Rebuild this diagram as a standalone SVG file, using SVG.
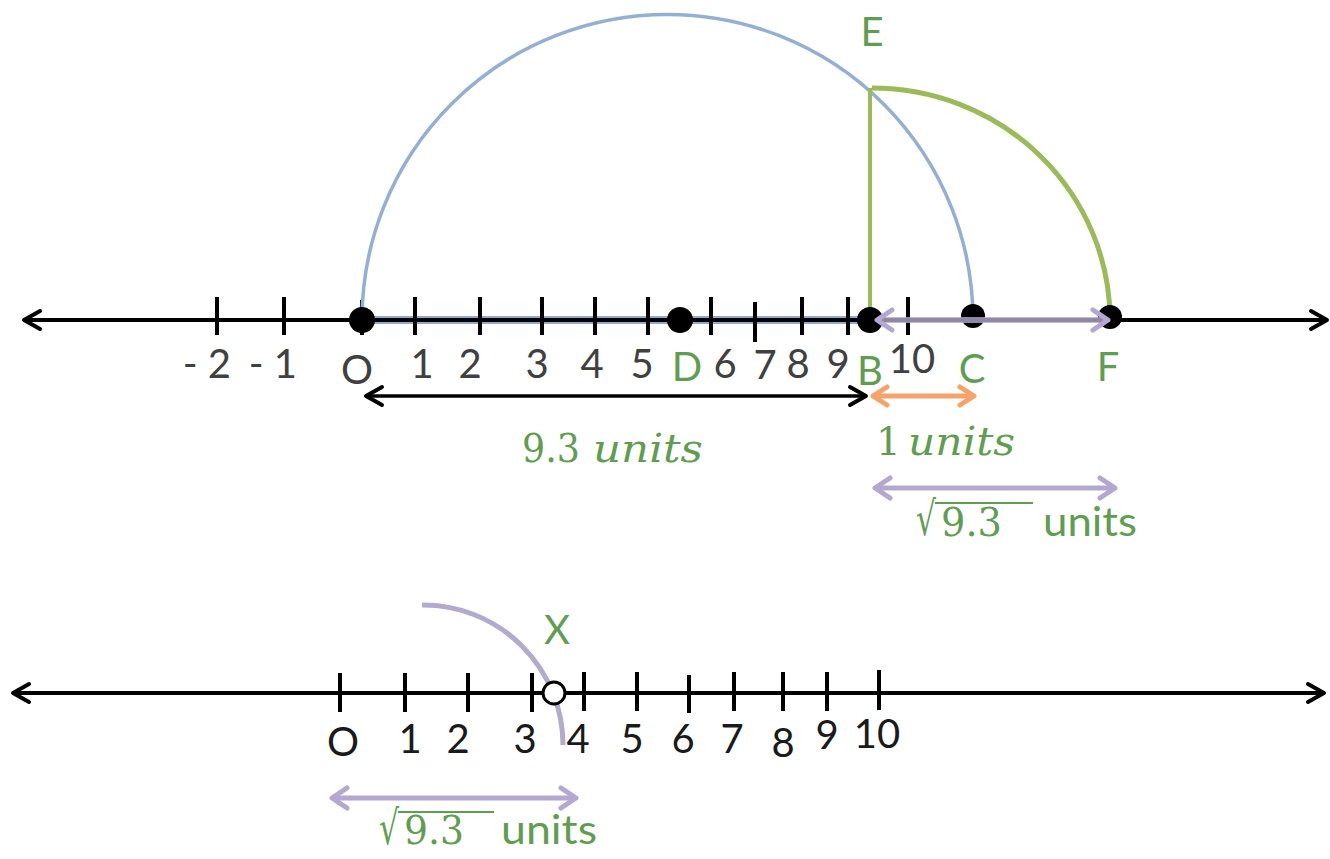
<svg xmlns="http://www.w3.org/2000/svg" width="1330" height="859" viewBox="0 0 1330 859">
<defs>
<style>
.lbl{font-family:Lato,"Open Sans","Liberation Sans",sans-serif;font-size:40px;fill:#404040;text-anchor:middle}
.lblb{font-family:Lato,"Open Sans","Liberation Sans",sans-serif;font-size:40px;fill:#1a1a1a;text-anchor:middle}
.gl{font-family:Lato,"Open Sans","Liberation Sans",sans-serif;font-size:40px;fill:#5f9e50;text-anchor:middle}
.gs{font-family:Lato,"Open Sans","Liberation Sans",sans-serif;font-size:40px;fill:#5f9e50}
.m{font-family:"DejaVu Serif","Liberation Serif",serif;font-size:39px;fill:#5f9e50}
.mi{font-family:"DejaVu Serif","Liberation Serif",serif;font-size:40px;fill:#5f9e50;font-style:italic}
.rad{font-family:"DejaVu Serif","Liberation Serif",serif;font-size:47px;fill:#5f9e50}
.tick{stroke:#000;stroke-width:4}
.axis{stroke:#000;stroke-width:4;fill:none}
.dot{fill:#000}
</style>
<marker id="ak" viewBox="-20 -12 24 24" refX="0" refY="0" markerWidth="24" markerHeight="24" markerUnits="userSpaceOnUse" orient="auto-start-reverse">
<path d="M-16,-9 L0,0 L-16,9" fill="none" stroke="#000" stroke-width="4" stroke-linejoin="round" stroke-linecap="round"/>
</marker>
<marker id="ap" viewBox="-20 -14 24 28" refX="0" refY="0" markerWidth="24" markerHeight="28" markerUnits="userSpaceOnUse" orient="auto-start-reverse">
<path d="M-15,-10 L0,0 L-15,10" fill="none" stroke="#b4a7d0" stroke-width="5" stroke-linejoin="round" stroke-linecap="round"/>
</marker>
<marker id="ao" viewBox="-20 -14 24 28" refX="0" refY="0" markerWidth="24" markerHeight="28" markerUnits="userSpaceOnUse" orient="auto-start-reverse">
<path d="M-14,-9 L0,0 L-14,9" fill="none" stroke="#f5a36a" stroke-width="5" stroke-linejoin="round" stroke-linecap="round"/>
</marker>
</defs>
<rect width="1330" height="859" fill="#fff"/>

<g id="connectors">
<line x1="362" y1="320" x2="870" y2="320" stroke="#8eaacc" stroke-width="8"/>
<line x1="24" y1="320" x2="1327" y2="320" class="axis" marker-start="url(#ak)" marker-end="url(#ak)"/>
<g class="tick">
<line x1="217" y1="297" x2="217" y2="335"/>
<line x1="284" y1="297" x2="284" y2="335"/>
<line x1="362" y1="300" x2="362" y2="335"/>
<line x1="415" y1="297" x2="415" y2="335"/>
<line x1="480" y1="297" x2="480" y2="335"/>
<line x1="542" y1="297" x2="542" y2="335"/>
<line x1="595" y1="297" x2="595" y2="335"/>
<line x1="648" y1="297" x2="648" y2="335"/>
<line x1="711" y1="297" x2="711" y2="335"/>
<line x1="755" y1="302" x2="755" y2="342"/>
<line x1="802" y1="297" x2="802" y2="335"/>
<line x1="848" y1="297" x2="848" y2="335"/>
<line x1="908" y1="297" x2="908" y2="335"/>
</g>
<path d="M362,320 A305.5,305.5 0 0 1 973,320" fill="none" stroke="#93b0d4" stroke-width="3.5"/>
<line x1="870" y1="320" x2="870" y2="88" stroke="#9bbb59" stroke-width="4"/>
<path d="M872,88 A238,232 0 0 1 1110,318" fill="none" stroke="#9bbb59" stroke-width="5"/>
<line x1="366" y1="396" x2="866" y2="396" stroke="#000" stroke-width="3.5" marker-start="url(#ak)" marker-end="url(#ak)"/>
<line x1="873" y1="396" x2="974" y2="396" stroke="#f5a36a" stroke-width="5" marker-start="url(#ao)" marker-end="url(#ao)"/>
<line x1="875" y1="488" x2="1115" y2="488" stroke="#b4a7d0" stroke-width="5" marker-start="url(#ap)" marker-end="url(#ap)"/>
<path d="M422,605 A140,140 0 0 1 563,745" fill="none" stroke="#b3abcd" stroke-width="5"/>
<line x1="13" y1="693" x2="1324" y2="693" class="axis" marker-start="url(#ak)" marker-end="url(#ak)"/>
<g class="tick">
<line x1="340" y1="673" x2="340" y2="712"/>
<line x1="405" y1="673" x2="405" y2="712"/>
<line x1="468" y1="673" x2="468" y2="712"/>
<line x1="532" y1="673" x2="532" y2="712"/>
<line x1="584" y1="672" x2="584" y2="711"/>
<line x1="637" y1="672" x2="637" y2="711"/>
<line x1="689" y1="675" x2="689" y2="713"/>
<line x1="734" y1="672" x2="734" y2="711"/>
<line x1="783" y1="672" x2="783" y2="711"/>
<line x1="827" y1="672" x2="827" y2="711"/>
<line x1="879" y1="670" x2="879" y2="710"/>
</g>
<line x1="332" y1="798" x2="576" y2="798" stroke="#b4a7d0" stroke-width="5" marker-start="url(#ap)" marker-end="url(#ap)"/>
</g>

<g id="node-O"><circle class="dot" cx="362" cy="320" r="13"/><text class="lbl" x="357" y="384">O</text></g>
<g id="node-D"><circle class="dot" cx="680" cy="320" r="13"/><text class="gl" x="687" y="381">D</text></g>
<g id="node-B"><circle class="dot" cx="870" cy="320" r="13"/><text class="gl" x="870" y="385">B</text></g>
<g id="node-C"><circle class="dot" cx="973" cy="316" r="12"/><text class="gl" x="972" y="383">C</text></g>
<g id="node-F"><circle class="dot" cx="1110" cy="317" r="12"/><text class="gl" x="1108" y="381">F</text></g>
<g id="node-E"><text class="gl" x="872" y="46">E</text></g>

<g id="bf-arrow">
<line x1="877" y1="320" x2="1108" y2="320" stroke="#b4a7d0" stroke-width="6" stroke-opacity="0.8" marker-start="url(#ap)" marker-end="url(#ap)"/>
</g>

<g id="top-labels">
<text class="lbl" x="231" y="378" style="text-anchor:end">- 2</text>
<text class="lbl" x="297" y="378" style="text-anchor:end">- 1</text>
<text class="lbl" x="422" y="378">1</text>
<text class="lbl" x="470" y="378">2</text>
<text class="lbl" x="537" y="378">3</text>
<text class="lbl" x="592" y="378">4</text>
<text class="lbl" x="642" y="378">5</text>
<text class="lbl" x="725" y="378">6</text>
<text class="lbl" x="765" y="379">7</text>
<text class="lbl" x="798" y="378">8</text>
<text class="lbl" x="838" y="378">9</text>
<text class="lbl" x="912" y="373">10</text>
</g>

<g id="measure-labels">
<text class="m" x="522" y="462" textLength="58" lengthAdjust="spacingAndGlyphs">9.3</text>
<text class="mi" x="593" y="462" textLength="110" lengthAdjust="spacingAndGlyphs">units</text>
<text class="m" x="876" y="455">1</text>
<text class="mi" x="908" y="455" textLength="107" lengthAdjust="spacingAndGlyphs">units</text>
<text class="rad" x="916" y="535" textLength="20" lengthAdjust="spacingAndGlyphs">√</text>
<line x1="935" y1="503" x2="1033" y2="503" stroke="#5f9e50" stroke-width="2"/>
<text class="m" x="941" y="536" font-size="36" textLength="61" lengthAdjust="spacingAndGlyphs">9.3</text>
<text class="gs" x="1043" y="536" textLength="94" lengthAdjust="spacingAndGlyphs">units</text>
</g>

<g id="node-X">
<circle cx="554" cy="693" r="11" fill="#fff" stroke="#000" stroke-width="3"/>
<text class="gl" x="557" y="644">X</text>
</g>

<g id="bottom-labels">
<text class="lblb" x="343" y="756">O</text>
<text class="lblb" x="410" y="753">1</text>
<text class="lblb" x="458" y="753">2</text>
<text class="lblb" x="525" y="753">3</text>
<text class="lblb" x="578" y="753">4</text>
<text class="lblb" x="632" y="753">5</text>
<text class="lblb" x="683" y="753">6</text>
<text class="lblb" x="732" y="753">7</text>
<text class="lblb" x="783" y="757">8</text>
<text class="lblb" x="827" y="749">9</text>
<text class="lblb" x="877" y="748">10</text>
<text class="rad" x="379" y="844" textLength="20" lengthAdjust="spacingAndGlyphs">√</text>
<line x1="398" y1="812" x2="494" y2="812" stroke="#5f9e50" stroke-width="2"/>
<text class="m" x="404" y="844" font-size="36" textLength="60" lengthAdjust="spacingAndGlyphs">9.3</text>
<text class="gs" x="501" y="844" textLength="96" lengthAdjust="spacingAndGlyphs">units</text>
</g>
</svg>
